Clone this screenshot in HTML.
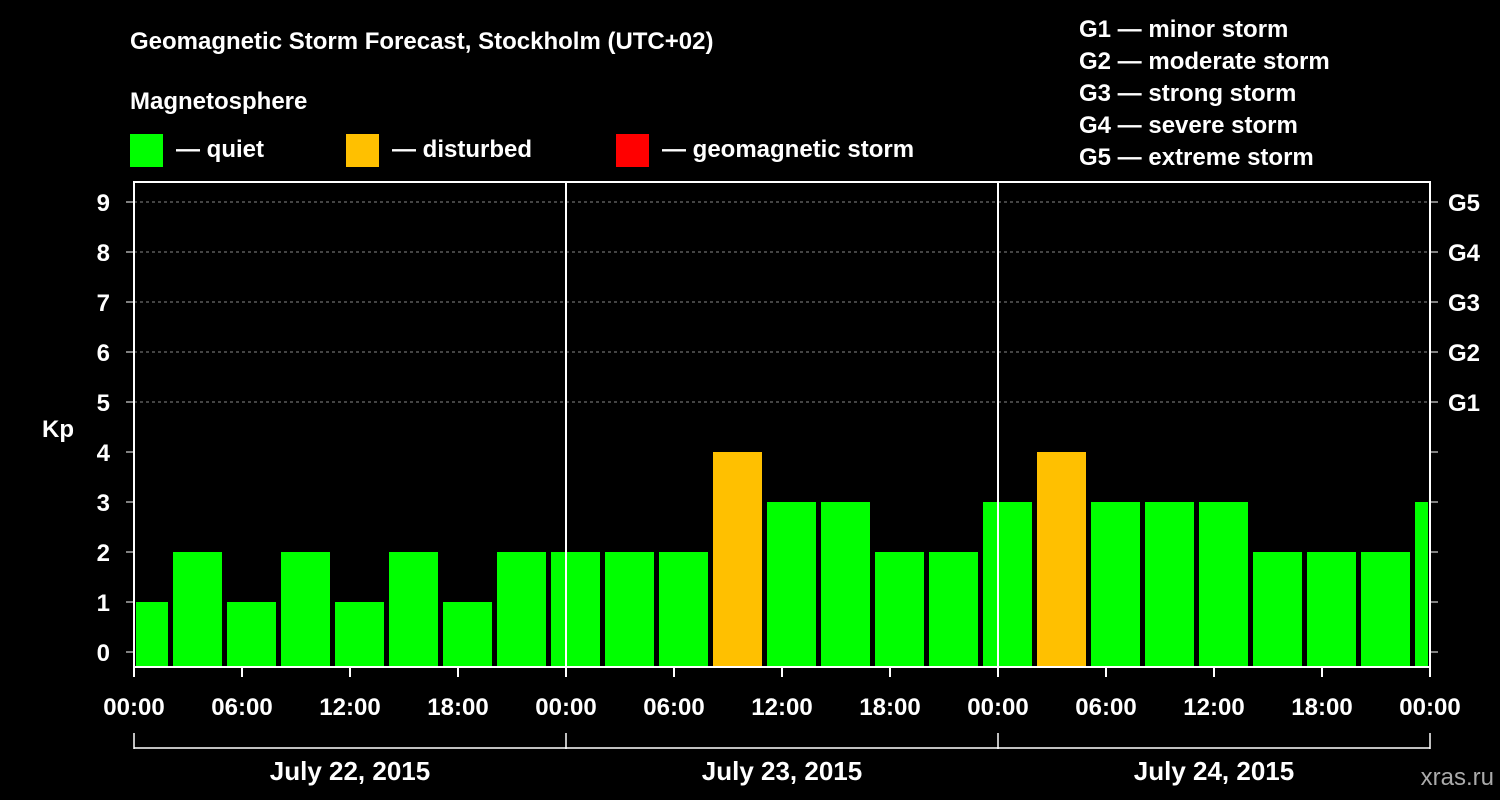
<!DOCTYPE html>
<html><head><meta charset="utf-8"><style>
html,body{margin:0;padding:0;background:#000;}
svg{display:block;font-family:"Liberation Sans",Arial,sans-serif;font-weight:bold;}
</style></head><body>
<svg id="chart" width="1500" height="800" viewBox="0 0 1500 800" xmlns="http://www.w3.org/2000/svg">
<text x="130" y="49" fill="#fff" font-size="24">Geomagnetic Storm Forecast, Stockholm (UTC+02)</text>
<text x="130" y="109" fill="#fff" font-size="24">Magnetosphere</text>
<g><rect x="130" y="134" width="33" height="33" fill="#00ff00"/><text x="176" y="157" fill="#fff" font-size="24">— quiet</text></g>
<g><rect x="346" y="134" width="33" height="33" fill="#ffc000"/><text x="392" y="157" fill="#fff" font-size="24">— disturbed</text></g>
<g><rect x="616" y="134" width="33" height="33" fill="#ff0000"/><text x="662" y="157" fill="#fff" font-size="24">— geomagnetic storm</text></g>
<g fill="#fff" font-size="24">
<text x="1079" y="37">G1 — minor storm</text>
<text x="1079" y="69">G2 — moderate storm</text>
<text x="1079" y="101">G3 — strong storm</text>
<text x="1079" y="133">G4 — severe storm</text>
<text x="1079" y="165">G5 — extreme storm</text>
</g>
<text x="42" y="437" fill="#fff" font-size="24">Kp</text>
<text x="1494" y="785" fill="#aaa" font-size="24" font-weight="normal" text-anchor="end">xras.ru</text>
<g id="grid"></g><g id="bars"></g><g id="axes"></g>
</svg>
<script>
const kpValues=[1,2,1,2,1,2,1,2,2,2,2,4,3,3,2,2,3,4,3,3,3,2,2,2,3];
const yTicks=[0,1,2,3,4,5,6,7,8,9];
const gLabels=["G1","G2","G3","G4","G5"];
const xTickLabels=["00:00","06:00","12:00","18:00","00:00","06:00","12:00","18:00","00:00","06:00","12:00","18:00","00:00"];
const dayLabels=["July 22, 2015","July 23, 2015","July 24, 2015"];
const NS="http://www.w3.org/2000/svg";
const L=134,R=1430,T=182,B=667;
const hx=h=>L+h*18;           // hours -> x
const y=k=>652-k*50;
function mk(tag,attrs,parent,txt){const e=document.createElementNS(NS,tag);for(const k in attrs)e.setAttribute(k,attrs[k]);if(txt!==undefined)e.textContent=txt;parent.appendChild(e);return e;}
const grid=document.getElementById('grid'),bars=document.getElementById('bars'),axes=document.getElementById('axes');
yTicks.forEach(k=>{
  if(k>=5){const g=mk('line',{x1:L,x2:R,y1:y(k),y2:y(k),stroke:'#888','stroke-dasharray':'3,3','stroke-width':1},grid);
  
  }
  const t=mk('text',{x:110,y:y(k)+9,fill:'#fff','font-size':24,'text-anchor':'end'},axes,String(k));
  
  
  mk('line',{x1:L-8,x2:L,y1:y(k),y2:y(k),stroke:'#fff','stroke-width':1},axes);
  mk('line',{x1:R,x2:R+8,y1:y(k),y2:y(k),stroke:'#fff','stroke-width':1},axes);
});
gLabels.forEach((g,i)=>{
  const t=mk('text',{x:1448,y:y(5+i)+9,fill:'#fff','font-size':24},axes,g);
  
  
});
kpValues.forEach((v,i)=>{
  let x0=hx(3*i-1)+3,x1=hx(3*i+2)-2;
  x0=Math.max(x0,L+2);x1=Math.min(x1,R-2);
  const col=v>=5?'#ff0000':(v>=4?'#ffc000':'#00ff00');
  const r=mk('rect',{x:x0,y:y(v),width:x1-x0,height:B-y(v),fill:col},bars);
  
  
});
[1,2].forEach(d=>{mk('line',{x1:hx(24*d),x2:hx(24*d),y1:T,y2:B,stroke:'#fff','stroke-width':2},axes);});
const frame=mk('rect',{x:L,y:T,width:R-L,height:B-T,fill:'none',stroke:'#fff','stroke-width':2},axes);


xTickLabels.forEach((s,i)=>{
  const x=hx(6*i);
  mk('line',{x1:x,x2:x,y1:B,y2:B+10,stroke:'#fff','stroke-width':2},axes);
  const t=mk('text',{x:x,y:715,fill:'#fff','font-size':24,'text-anchor':'middle'},axes,s);
  
  
});
mk('line',{x1:L,x2:R,y1:748,y2:748,stroke:'#fff','stroke-width':1.5},axes);
[0,1,2,3].forEach(d=>mk('line',{x1:hx(24*d),x2:hx(24*d),y1:733,y2:749,stroke:'#fff','stroke-width':1.5},axes));
dayLabels.forEach((s,d)=>{
  const t=mk('text',{x:hx(24*d+12),y:780,fill:'#fff','font-size':26,'text-anchor':'middle'},axes,s);
  
  
});
</script>
</body></html>
